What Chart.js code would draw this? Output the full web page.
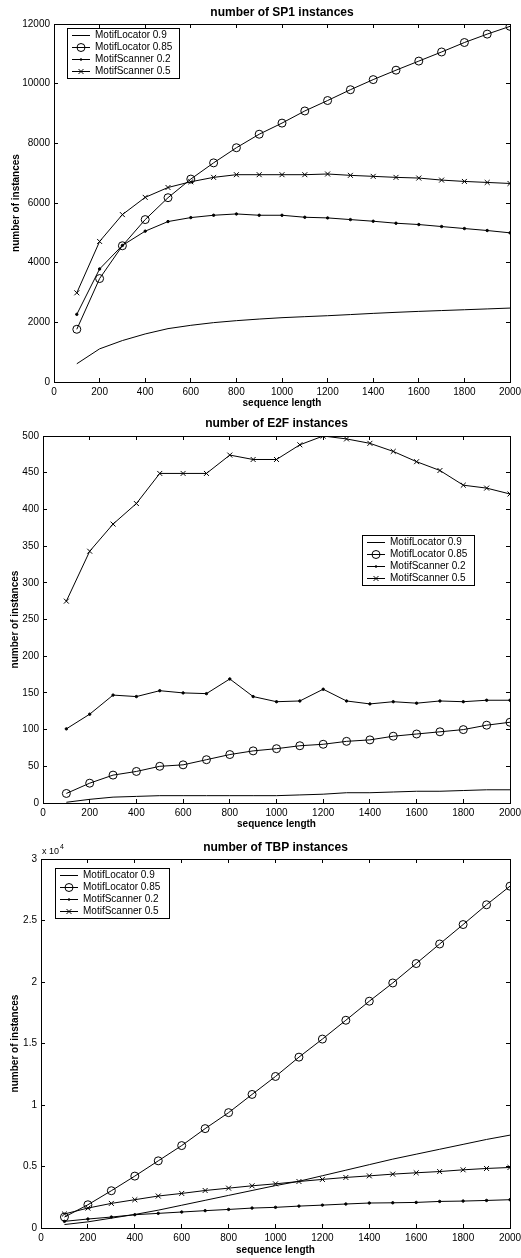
<!DOCTYPE html>
<html><head><meta charset="utf-8">
<script src="https://cdn.jsdelivr.net/npm/chart.js@4/dist/chart.umd.min.js"></script>
<style>
html,body{margin:0;padding:0;background:#fff;}
body{width:521px;height:1258px;position:relative;overflow:hidden;}
.wrap{position:absolute;left:0;width:521px;}
canvas{display:block;}
</style></head><body>
<div class="wrap" style="top:0;height:410px"><canvas id="c1" width="521" height="410"></canvas></div>
<div class="wrap" style="top:410px;height:420px"><canvas id="c2" width="521" height="420"></canvas></div>
<div class="wrap" style="top:830px;height:428px"><canvas id="c3" width="521" height="428"></canvas></div>
<script>
// ---------- data ----------
const lengths = [100,200,300,400,500,600,700,800,900,1000,1100,1200,1300,1400,1500,1600,1700,1800,1900,2000];
const seriesNames = ['MotifLocator 0.9','MotifLocator 0.85','MotifScanner 0.2','MotifScanner 0.5'];

const sp1_ml09  = [611,1111,1389,1611,1789,1900,1990,2056,2110,2156,2190,2222,2260,2300,2335,2367,2395,2422,2450,2478];
const sp1_ml085 = [1767,3467,4567,5444,6178,6802,7345,7853,8305,8678,9085,9435,9797,10136,10452,10757,11062,11379,11661,11921];
const sp1_ms02  = [2267,3789,4578,5056,5378,5511,5589,5633,5589,5589,5522,5500,5444,5389,5322,5278,5211,5144,5078,5000];
const sp1_ms05  = [2989,4711,5611,6189,6520,6712,6859,6949,6949,6949,6949,6972,6927,6893,6859,6836,6768,6723,6689,6655];

const e2f_ml09  = [1,5,8,9,10,10,10,10,10,10,11,12,14,14,15,16,16,17,18,18];
const e2f_ml085 = [13,27,38,43,50,52,59,66,71,74,78,80,84,86,91,94,97,100,106,110];
const e2f_ms02  = [101,121,147,145,153,150,149,169,145,138,139,155,139,135,138,136,139,138,140,140];
const e2f_ms05  = [275,343,380,408,449,449,449,474,468,468,488,500,496,490,479,465,453,433,429,421];

const tbp_ml09  = [280,500,800,1100,1450,1850,2250,2650,3050,3450,3800,4250,4700,5150,5600,6000,6400,6800,7200,7550];
const tbp_ml085 = [890,1890,3030,4220,5460,6700,8080,9380,10860,12320,13890,15360,16890,18440,19920,21500,23090,24670,26280,27790];
const tbp_ms02  = [540,730,890,1080,1190,1300,1410,1510,1620,1680,1780,1860,1950,2030,2050,2080,2160,2190,2240,2300];
const tbp_ms05  = [1140,1620,2000,2300,2600,2810,3050,3240,3430,3590,3780,3950,4110,4240,4380,4490,4590,4730,4840,4920];

const xTicks = {min:0, max:2000, step:200};

// ---------- styles ----------
const FONT = '"Liberation Sans", Arial, Helvetica, sans-serif';
Chart.defaults.font.family = FONT;
Chart.defaults.font.size = 10;
Chart.defaults.color = '#000';

const markerStyles = [
  {pointStyle:false, pointRadius:0},
  {pointStyle:'circle', pointRadius:4, fill:false},
  {pointStyle:'circle', pointRadius:1.2, fill:true},
  {pointStyle:'crossRot', pointRadius:3.5, fill:false}
];

function drawMarker(ctx, m, x, y){
  if (!m.pointStyle) return;
  ctx.beginPath();
  if (m.pointStyle === 'circle') {
    ctx.arc(x, y, m.pointRadius, 0, Math.PI*2);
    if (m.fill) { ctx.fillStyle = '#000'; ctx.fill(); } else ctx.stroke();
  } else if (m.pointStyle === 'crossRot') {
    const d = m.pointRadius*Math.SQRT1_2;
    ctx.moveTo(x-d,y-d); ctx.lineTo(x+d,y+d);
    ctx.moveTo(x-d,y+d); ctx.lineTo(x+d,y-d);
    ctx.stroke();
  }
}

const boxLegend = {
  id: 'boxLegend',
  afterDraw(chart, args, o) {
    if (!o || o.dx === undefined) return;
    const ctx = chart.ctx, a = chart.chartArea;
    const x = Math.round(a.left + o.dx), y = Math.round(a.top + o.dy);
    ctx.save();
    ctx.fillStyle = '#fff'; ctx.fillRect(x, y, o.w, o.h);
    ctx.strokeStyle = '#000'; ctx.lineWidth = 1;
    ctx.strokeRect(x + 0.5, y + 0.5, o.w, o.h);
    ctx.font = '10px ' + FONT;
    ctx.textBaseline = 'middle';
    chart.data.datasets.forEach((ds, i) => {
      const ry = y + o.top + i * o.gap + 0.5;
      ctx.strokeStyle = '#000'; ctx.lineWidth = 1;
      ctx.beginPath(); ctx.moveTo(x + o.lx1, ry); ctx.lineTo(x + o.lx2, ry); ctx.stroke();
      drawMarker(ctx, markerStyles[i], x + (o.lx1 + o.lx2)/2, ry);
      ctx.fillStyle = '#000';
      ctx.fillText(ds.label, x + o.tx, ry);
    });
    ctx.restore();
  }
};

const exponentLabel = {
  id: 'exponentLabel',
  afterDraw(chart, args, o) {
    if (!o || !o.base) return;
    const ctx = chart.ctx, a = chart.chartArea;
    ctx.save();
    ctx.fillStyle = '#000';
    ctx.textBaseline = 'alphabetic';
    ctx.font = '9px ' + FONT;
    ctx.fillText(o.base, a.left + 1, a.top - 5);
    const w = ctx.measureText(o.base).width;
    ctx.font = '7px ' + FONT;
    ctx.fillText(o.exp, a.left + 1 + w + 1, a.top - 10);
    ctx.restore();
  }
};

function fixH(h){ return s => { s.height = h; s.paddingLeft = 0; s.paddingRight = 0; }; }
function fixW(w){ return s => { s.width = w; s.paddingTop = 0; s.paddingBottom = 0; }; }

function makeChart(id, cfg) {
  const datasets = cfg.series.map((vals, i) => {
    const m = markerStyles[i];
    return {
      label: seriesNames[i],
      data: lengths.map((x, k) => ({x: x, y: vals[k]})),
      borderColor: '#000',
      borderWidth: 1,
      pointStyle: m.pointStyle,
      pointRadius: m.pointRadius,
      pointBorderColor: '#000',
      pointBorderWidth: 1,
      pointBackgroundColor: m.fill ? '#000' : 'rgba(0,0,0,0)',
      tension: 0,
      fill: false
    };
  });
  const G = cfg.geom;
  const common = {
    border: {display: true, color: '#000', width: 1},
    grid: {drawOnChartArea: false, drawTicks: true, tickLength: -4, color: '#000', lineWidth: 1}
  };
  return new Chart(document.getElementById(id), {
    type: 'line',
    data: {datasets},
    options: {
      responsive: false,
      animation: false,
      events: [],
      layout: {padding: 0},
      plugins: {
        legend: {display: false},
        tooltip: {enabled: false},
        title: {display: true, text: cfg.title, color: '#000', fullSize: false,
                font: {size: 12, weight: 'bold', family: FONT},
                padding: {top: G.titleTop, bottom: 0}},
        boxLegend: cfg.legend,
        exponentLabel: cfg.exponent || {}
      },
      scales: {
        x: Object.assign({}, common, {
          type: 'linear', position: 'bottom', min: xTicks.min, max: xTicks.max,
          ticks: {stepSize: xTicks.step, padding: 8, autoSkip: false, maxRotation: 0, color: '#000', font: {size: 10},
                  callback: v => String(v)},
          title: {display: true, text: 'sequence length', color: '#000', font: {size: 10, weight: 'bold'}, padding: {top: 0, bottom: G.xTitleBottom}},
          afterFit: fixH(G.xH)
        }),
        x2: Object.assign({}, common, {
          type: 'linear', position: 'top', min: xTicks.min, max: xTicks.max,
          ticks: {stepSize: xTicks.step, display: false, autoSkip: false},
          afterFit: fixH(G.x2H)
        }),
        y: Object.assign({}, common, {
          type: 'linear', position: 'left', min: 0, max: cfg.yMax,
          ticks: {stepSize: cfg.yStep, padding: 8, autoSkip: false, color: '#000', font: {size: 10},
                  callback: cfg.yFmt || (v => String(v))},
          title: {display: true, text: 'number of instances', color: '#000', font: {size: 10, weight: 'bold'}, padding: {top: G.yTitleTop, bottom: 0}},
          afterFit: fixW(G.yW)
        }),
        y2: Object.assign({}, common, {
          type: 'linear', position: 'right', min: 0, max: cfg.yMax,
          ticks: {stepSize: cfg.yStep, display: false, autoSkip: false},
          afterFit: fixW(G.y2W)
        })
      }
    },
    plugins: [boxLegend, exponentLabel]
  });
}

const legendGeom = {top: 7, gap: 12, lx1: 5, lx2: 23, tx: 28, w: 112, h: 50};

makeChart('c1', {
  title: 'number of SP1 instances',
  series: [sp1_ml09, sp1_ml085, sp1_ms02, sp1_ms05],
  yMax: 12000, yStep: 2000,
  geom: {titleTop: 5, x2H: 4.6, xH: 28, xTitleBottom: 1, yW: 54, y2W: 11, yTitleTop: 10},
  legend: Object.assign({dx: 13, dy: 4}, legendGeom)
});

makeChart('c2', {
  title: 'number of E2F instances',
  series: [e2f_ml09, e2f_ml085, e2f_ms02, e2f_ms05],
  yMax: 500, yStep: 50,
  geom: {titleTop: 6, x2H: 5.6, xH: 27, xTitleBottom: 0, yW: 43, y2W: 11, yTitleTop: 9.5},
  legend: Object.assign({dx: 319, dy: 99}, legendGeom)
});

makeChart('c3', {
  title: 'number of TBP instances',
  series: [tbp_ml09, tbp_ml085, tbp_ms02, tbp_ms05],
  yMax: 30000, yStep: 5000,
  yFmt: v => String(v / 10000),
  geom: {titleTop: 10, x2H: 4.6, xH: 30, xTitleBottom: 2, yW: 41, y2W: 11, yTitleTop: 9},
  legend: Object.assign({dx: 14, dy: 9}, legendGeom, {w: 114}),
  exponent: {base: 'x 10', exp: '4'}
});
</script>
</body></html>
